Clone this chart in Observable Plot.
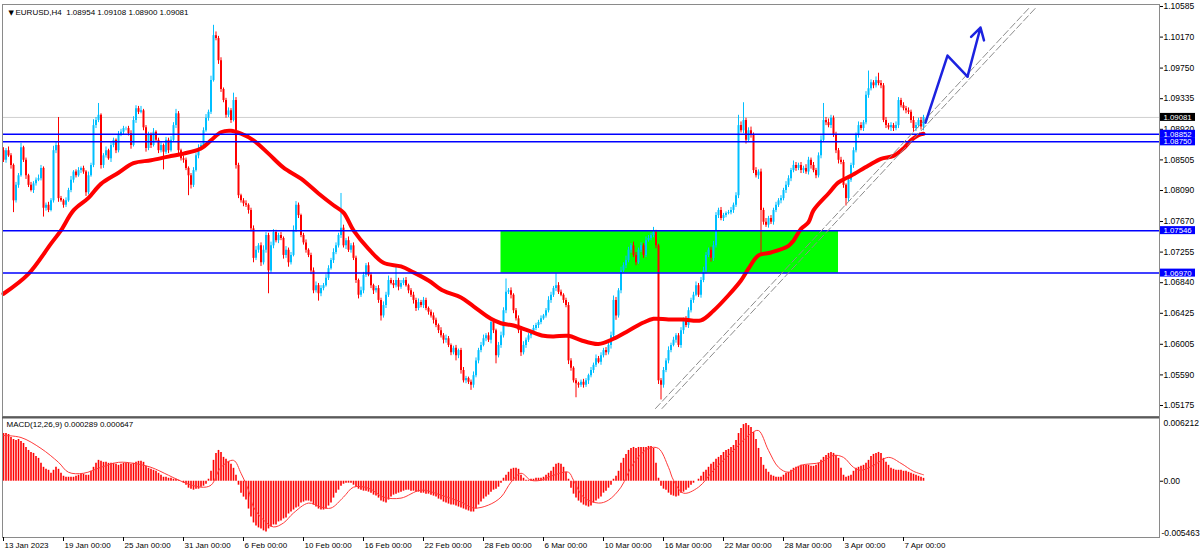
<!DOCTYPE html>
<html><head><meta charset="utf-8">
<script src="https://cdn.jsdelivr.net/npm/d3@7"></script>
<script src="https://cdn.jsdelivr.net/npm/@observablehq/plot@0.6"></script>
<style>
html,body{margin:0;padding:0;background:#fff;}
#wrap{width:1200px;height:553px;overflow:hidden;background:#fff;}
#wrap svg{display:block;}
</style></head><body><div id="wrap"></div>
<script>
// ---------------- DATA ----------------
const symbolHeader = "EURUSD,H4  1.08954 1.09108 1.08900 1.09081";
const macdHeader = "MACD(12,26,9) 0.000289 0.000647";
const firstOpen = 1.0863;
// H4 closes, one per bar (bar 0 = 13 Jan 2023 00:00)
const closes = [
1.0850,1.0863,1.0856,1.0843,1.0795,1.0816,1.0829,1.0867,1.0850,1.0829,
1.0816,1.0809,1.0818,1.0823,1.0825,1.0839,1.0785,1.0789,1.0782,1.0795,
1.0863,1.0870,1.0798,1.0795,1.0789,1.0795,1.0809,1.0823,1.0834,1.0829,
1.0836,1.0839,1.0834,1.0806,1.0829,1.0843,1.0897,1.0904,1.0911,1.0843,
1.0856,1.0863,1.0852,1.0870,1.0877,1.0863,1.0884,1.0888,1.0893,1.0893,
1.0886,1.0870,1.0904,1.0920,1.0915,1.0917,1.0894,1.0866,1.0884,1.0870,
1.0888,1.0877,1.0863,1.0870,1.0861,1.0877,1.0863,1.0877,1.0897,1.0913,
1.0863,1.0852,1.0850,1.0839,1.0829,1.0816,1.0836,1.0856,1.0866,1.0870,
1.0890,1.0907,1.0915,1.0958,1.1019,1.1015,1.0985,1.0946,1.0931,1.0911,
1.0917,1.0904,1.0931,1.0843,1.0802,1.0795,1.0791,1.0789,1.0782,1.0757,
1.0717,1.0728,1.0734,1.0711,1.0728,1.0748,1.0700,1.0734,1.0752,1.0741,
1.0748,1.0744,1.0721,1.0728,1.0711,1.0721,1.0755,1.0789,1.0775,1.0748,
1.0738,1.0728,1.0721,1.0700,1.0673,1.0680,1.0669,1.0676,1.0680,1.0690,
1.0703,1.0714,1.0725,1.0734,1.0748,1.0758,1.0734,1.0741,1.0728,1.0734,
1.0717,1.0687,1.0667,1.0673,1.0694,1.0707,1.0694,1.0680,1.0673,1.0676,
1.0660,1.0639,1.0653,1.0667,1.0687,1.0683,1.0680,1.0687,1.0678,1.0683,
1.0687,1.0680,1.0673,1.0667,1.0660,1.0649,1.0657,1.0653,1.0660,1.0649,
1.0644,1.0639,1.0633,1.0626,1.0619,1.0612,1.0606,1.0608,1.0599,1.0589,
1.0595,1.0585,1.0592,1.0565,1.0551,1.0554,1.0549,1.0545,1.0558,1.0578,
1.0592,1.0599,1.0608,1.0612,1.0606,1.0630,1.0619,1.0585,1.0599,1.0612,
1.0646,1.0671,1.0673,1.0667,1.0646,1.0635,1.0619,1.0589,1.0599,1.0606,
1.0612,1.0616,1.0622,1.0626,1.0630,1.0635,1.0639,1.0646,1.0660,1.0667,
1.0676,1.0680,1.0671,1.0667,1.0660,1.0653,1.0578,1.0568,1.0551,1.0547,
1.0545,1.0549,1.0545,1.0551,1.0558,1.0565,1.0572,1.0581,1.0576,1.0585,
1.0592,1.0589,1.0599,1.0612,1.0660,1.0639,1.0673,1.0700,1.0707,1.0714,
1.0728,1.0734,1.0721,1.0711,1.0728,1.0734,1.0721,1.0741,1.0744,1.0748,
1.0752,1.0734,1.0551,1.0545,1.0565,1.0578,1.0592,1.0599,1.0606,1.0612,
1.0599,1.0619,1.0633,1.0626,1.0646,1.0660,1.0667,1.0680,1.0667,1.0687,
1.0700,1.0721,1.0728,1.0717,1.0734,1.0775,1.0782,1.0771,1.0775,1.0778,
1.0779,1.0782,1.0789,1.0802,1.0897,1.0890,1.0904,1.0877,1.0890,1.0884,
1.0836,1.0829,1.0834,1.0782,1.0766,1.0762,1.0771,1.0766,1.0782,1.0789,
1.0795,1.0798,1.0809,1.0816,1.0825,1.0836,1.0843,1.0839,1.0843,1.0836,
1.0839,1.0834,1.0850,1.0843,1.0836,1.0829,1.0856,1.0877,1.0904,1.0901,
1.0897,1.0907,1.0884,1.0863,1.0850,1.0847,1.0816,1.0798,1.0823,1.0843,
1.0863,1.0884,1.0897,1.0893,1.0901,1.0938,1.0947,1.0955,1.0951,1.0958,
1.0954,1.0951,1.0904,1.0897,1.0894,1.0897,1.0893,1.0897,1.0931,1.0924,
1.0920,1.0917,1.0915,1.0904,1.0893,1.0897,1.0904,1.0895,1.0908];
// upper / lower wick length of each bar, in pips
const wickUp = [
4,3,5,3,2,4,3,6,2,3, 2,4,3,3,5,4,2,3,4,3, 6,5,38,3,2,4,3,5,2,3, 4,2,3,2,5,3,8,4,16,2,
3,5,2,4,3,2,5,4,3,2, 3,4,5,4,3,6,2,3,4,3, 5,2,3,4,2,4,3,5,4,6, 3,2,4,3,2,3,4,3,5,3,
4,5,3,6,14,5,3,4,2,3, 4,3,10,4,3,2,3,4,2,3, 4,5,3,4,6,4,3,5,4,3, 3,4,2,5,3,4,6,5,3,2,
3,4,2,3,4,5,3,4,3,5, 4,3,5,4,3,47,4,3,5,3, 4,3,2,5,4,3,4,3,2,3, 4,3,5,4,6,3,4,18,3,4,
3,4,2,3,4,3,5,3,4,3, 2,3,4,3,2,4,3,5,3,2, 3,4,2,3,4,3,2,3,5,4, 3,4,5,3,4,6,3,2,4,5,
4,18,3,4,2,3,4,3,5,3, 3,2,4,3,3,4,2,3,5,4, 3,16,4,3,2,3,4,3,2,3, 2,3,4,3,2,4,3,5,3,4,
3,4,3,5,6,4,3,5,4,6, 4,3,5,4,3,4,3,5,4,3, 7,3,2,3,4,3,5,3,4,3, 3,4,3,5,4,3,4,5,3,4,
5,4,3,4,6,4,3,4,3,2, 3,4,3,4,14,5,24,3,4,5, 3,4,3,4,3,5,3,4,3,4, 3,4,3,5,4,3,6,4,3,4,
3,5,4,3,4,3,4,6,23,4, 5,4,3,4,3,4,3,2,4,3, 4,3,5,4,3,5,24,4,3,5, 10,4,3,4,3,4,3,5,4,3,
4,3,4,3,5,4,3,4,3];
const wickDn = [
3,4,2,5,16,3,4,2,3,5, 3,2,4,3,2,3,12,4,3,2, 3,4,5,2,4,3,2,3,4,3, 2,4,3,5,3,2,3,4,3,5,
4,3,2,5,3,4,3,2,4,3, 3,5,2,4,3,2,4,5,3,4, 2,3,4,3,24,3,4,2,3,4, 5,3,4,3,27,5,3,2,4,3,
3,2,4,3,2,3,5,4,3,4, 3,4,2,5,4,3,4,3,5,4, 6,3,4,5,3,4,31,3,4,3, 4,3,5,4,6,3,2,3,4,3,
3,4,3,5,4,3,10,4,3,2, 3,2,4,3,3,4,3,5,3,4, 3,4,5,3,4,3,2,4,5,3, 4,7,3,4,3,2,4,3,5,3,
3,2,4,3,5,4,3,3,4,3, 4,3,5,3,4,3,5,4,3,4, 3,7,4,5,3,4,3,7,4,3, 4,3,2,4,3,5,4,11,3,4,
3,4,3,5,4,3,4,5,3,4, 3,4,2,3,4,3,2,3,3,4, 3,4,3,2,4,3,5,4,3,19, 4,3,4,3,5,3,4,3,2,4,
3,4,3,5,4,6,3,4,3,4, 3,4,3,4,2,3,4,3,2,3, 3,4,5,20,4,3,4,3,2,4, 3,4,5,3,4,3,4,2,3,4,
3,4,3,5,4,3,4,3,4,3, 2,3,4,3,4,3,4,5,3,4, 4,3,5,58,4,3,4,3,4,3, 3,4,3,4,3,4,3,4,3,4,
4,3,4,5,3,4,3,4,3,4, 3,4,3,4,5,3,4,10,4,3, 4,3,4,3,4,3,4,3,4,3, 3,4,3,4,3,5,4,3,4,3,
3,4,3,4,5,4,3,4,5];
// moving average (thick red line): bar index / value
const maIdx = [0,10,19,23,28,34,39,46,52,59,66,72,79,83,87,91,95,100,106,112,119,126,132,136,140,146,152,159,164,170,176,183,188,195,199,204,210,216,220,226,231,238,244,250,256,260,266,272,279,284,290,295,298,302,307,314,316,319,322,324,330,334,339,346,351,356,360,363,366,368];
const maVal = [1.0669,1.0696,1.0737,1.0755,1.0782,1.0799,1.0818,1.0833,1.0846,1.0850,1.0855,1.0859,1.0866,1.0877,1.0888,1.0890,1.0886,1.0877,1.0859,1.0840,1.0825,1.0805,1.0789,1.0779,1.0755,1.0730,1.0711,1.0706,1.0698,1.0687,1.0673,1.0664,1.0652,1.0635,1.0629,1.0626,1.0619,1.0612,1.0611,1.0612,1.0606,1.0601,1.0608,1.0619,1.0630,1.0635,1.0634,1.0634,1.0633,1.0646,1.0667,1.0687,1.0703,1.0721,1.0725,1.0734,1.0741,1.0757,1.0766,1.0782,1.0805,1.0820,1.0829,1.0843,1.0852,1.0856,1.0866,1.0877,1.0884,1.0886];
const levels = [1.08852, 1.08750, 1.07546, 1.06970];
const lastPrice = 1.09081;
const priceTicks = [1.10585,1.10170,1.09750,1.09335,1.08920,1.08505,1.08090,1.07670,1.07255,1.06840,1.06425,1.06005,1.05590,1.05175];
const zone = {i1: 199, i2: 334, lo: 1.06970, hi: 1.07546};
const trendIdxA = [260.8, 410.8], trendIdxB = [263.4, 413.4], trendP = [1.05134, 1.10585];
const arrowIdx = [368.8, 377.6, 385.6, 390.8], arrowP = [1.0901, 1.0992, 1.09635, 1.1030];
// MACD main line histogram, in units of 0.0001
const macdHist = [
48,48,47,44,42,41,42,40,38,34, 31,29,28,25,23,18,14,12,11,8, 11,14,12,8,5,4,4,4,4,5, 6,7,7,6,6,10,14,18,21,20,
19,19,18,18,18,17,16,17,18,18, 18,17,18,19,20,20,19,15,13,12, 11,10,8,6,4,4,3,3,2,2, 1,0,-2,-4,-7,-8,-9,-8,-8,-6,
-5,-3,2,10,21,28,31,29,24,22, 20,17,13,6,-4,-12,-16,-19,-28,-36, -42,-45,-47,-48,-50,-51,-48,-46,-44,-44, -41,-40,-38,-37,-33,-31,-29,-27,-26,-22,
-21,-20,-20,-21,-24,-26,-28,-29,-29,-28, -25,-22,-17,-12,-9,-5,-3,-2,-2,-2, -4,-6,-8,-9,-10,-10,-11,-12,-14,-15, -17,-20,-21,-22,-19,-16,-14,-13,-12,-11,
-10,-9,-9,-10,-10,-11,-11,-12,-12,-13, -13,-14,-15,-16,-18,-19,-21,-22,-23,-24, -24,-25,-26,-27,-28,-29,-30,-31,-31,-28, -24,-21,-18,-16,-14,-11,-9,-8,-6,-2,
3,6,9,12,13,13,12,6,3,1, 1,2,2,3,3,3,4,6,8,10, 14,17,18,17,14,9,2,-7,-13,-17, -20,-22,-24,-25,-26,-25,-22,-20,-18,-16,
-12,-10,-7,-4,2,5,10,18,23,27, 31,33,34,33,34,34,34,34,35,35, 33,18,3,-5,-8,-9,-12,-14,-15,-16, -15,-12,-11,-9,-7,-4,-2,0,2,5,
9,11,14,17,19,22,24,26,29,31, 32,34,36,41,48,53,57,58,56,54, 49,42,33,24,16,12,9,6,5,4, 4,4,6,8,9,11,13,14,15,16,
16,16,16,15,15,16,18,21,24,26, 28,29,28,26,23,13,6,4,5,6, 10,13,14,15,16,18,21,25,27,28, 29,28,23,19,16,13,12,11,11,11,
10,10,9,8,7,6,5,4,2.89];
// signal line, in units of 0.0001
const sigIdx = [0,7,15,22,26,32,39,46,52,59,66,72,79,83,87,92,95,98,100,104,108,112,116,122,127,131,136,140,146,152,159,167,175,183,188,194,199,203,207,211,215,220,226,228,232,238,242,247,252,258,262,266,268,272,278,284,292,299,302,306,310,314,319,327,332,336,340,343,348,354,359,364,368];
const sigVal = [46,44,33,19,9,8,14,19,18,14,6,-1,-6,-4,14,21,8,-9,-26,-39,-46,-42,-32,-22,-26,-27,-16,-6,-7,-16,-17,-9,-14,-21,-27,-24,-16,-1,8,1,1,6,9,1,-16,-22,-19,-6,18,33,33,14,1,-12,-6,11,31,48,51,31,14,9,16,19,26,24,14,11,16,24,18,10,6.47];
const macdTicks = [0.006212, 0, -0.005463];
const dateLabels = ["13 Jan 2023","19 Jan 00:00","25 Jan 00:00","31 Jan 00:00","6 Feb 00:00","10 Feb 00:00","16 Feb 00:00","22 Feb 00:00","28 Feb 00:00","6 Mar 00:00","10 Mar 00:00","16 Mar 00:00","22 Mar 00:00","28 Mar 00:00","3 Apr 00:00","7 Apr 00:00"];
const dateIdx = [0,24,48,72,96,120,144,168,192,216,240,264,288,312,336,360];

// ---------------- BUILD ----------------
const BULL = "#00bfff", BEAR = "#ff0000";
const xMax = 462.4;
const f5 = d => d.toFixed(5);
const bars = closes.map((c, i) => {
  const o = i === 0 ? firstOpen : closes[i - 1];
  return {i, o, c, h: Math.max(o, c) + (wickUp[i] || 3) / 1e4, l: Math.min(o, c) - (wickDn[i] || 3) / 1e4};
});
const up = bars.filter(b => b.c >= b.o), dn = bars.filter(b => b.c < b.o);
const ma = maIdx.map((i, k) => ({i, p: maVal[k]}));
const trendA = trendIdxA.map((i, k) => ({i, p: trendP[k]}));
const trendB = trendIdxB.map((i, k) => ({i, p: trendP[k]}));
const arrowPts = arrowIdx.map((i, k) => ({i, p: arrowP[k]}));
const arrowHead = [{i1: arrowIdx[2], p1: arrowP[2], i2: arrowIdx[3], p2: arrowP[3]}];
const levelBoxes = levels.map(p => ({x: xMax, p}));
const lastBox = [{x: xMax, p: lastPrice}];
const hist = macdHist.map((v, i) => ({i, v: v / 1e4}));
const signal = sigIdx.map((i, k) => ({i, v: sigVal[k] / 1e4}));
const dates = dateLabels.map((label, k) => ({i: dateIdx[k], label}));
const font = "'Liberation Sans', Arial, sans-serif";

const boxOpts = {x1: "x", x2: "x", y1: "p", y2: "p", insetLeft: 1, insetRight: -36, insetTop: -4, insetBottom: -4};

const main = Plot.plot({
  width: 1200, height: 416,
  marginLeft: 2, marginRight: 41, marginTop: 4, marginBottom: 0,
  x: {domain: [0, xMax], range: [3, 1159], axis: null},
  y: {domain: [1.05175, 1.10585], range: [405, 6]},
  style: {fontFamily: font, fontSize: "8.5px", color: "#000", background: "#fff"},
  marks: [
    Plot.axisY({ticks: priceTicks, anchor: "right", tickSize: 3, tickPadding: 1, tickFormat: f5, label: null, fontSize: 8.5}),
    Plot.rect([zone], {x1: "i1", x2: "i2", y1: "lo", y2: "hi", fill: "#00ff00"}),
    Plot.ruleY([lastPrice], {stroke: "#cfcfcf"}),
    Plot.ruleX(up, {x: "i", y1: "l", y2: "h", stroke: BULL, strokeWidth: 1}),
    Plot.ruleX(dn, {x: "i", y1: "l", y2: "h", stroke: BEAR, strokeWidth: 1}),
    Plot.ruleX(up, {x: "i", y1: "o", y2: "c", stroke: BULL, strokeWidth: 2}),
    Plot.ruleX(dn, {x: "i", y1: "o", y2: "c", stroke: BEAR, strokeWidth: 2}),
    Plot.line(ma, {x: "i", y: "p", stroke: "#ff0000", strokeWidth: 4, curve: "catmull-rom"}),
    Plot.ruleY(levels, {stroke: "#0000ff", strokeWidth: 1.5}),
    Plot.line(trendA, {x: "i", y: "p", stroke: "#8c8c8c", strokeWidth: 1, strokeDasharray: "7,3"}),
    Plot.line(trendB, {x: "i", y: "p", stroke: "#8c8c8c", strokeWidth: 1, strokeDasharray: "7,3"}),
    Plot.line(arrowPts.slice(0, 3), {x: "i", y: "p", stroke: "#1c22e0", strokeWidth: 2.5, strokeLinejoin: "round"}),
    Plot.arrow(arrowHead, {x1: "i1", y1: "p1", x2: "i2", y2: "p2", stroke: "#1c22e0", strokeWidth: 2.5, headLength: 8}),
    Plot.frame({stroke: "#8a8a8a"}),
    Plot.rect(levelBoxes, {...boxOpts, fill: "#0000ff"}),
    Plot.text(levelBoxes, {x: "x", y: "p", text: d => f5(d.p), fill: "#fff", textAnchor: "start", dx: 4, fontSize: 7.8}),
    Plot.rect(lastBox, {...boxOpts, fill: "#000"}),
    Plot.text(lastBox, {x: "x", y: "p", text: d => f5(d.p), fill: "#fff", textAnchor: "start", dx: 4, fontSize: 7.8}),
    Plot.text(["\u25BC"], {frameAnchor: "top-left", dx: 6, dy: 8, fontSize: 7, fontFamily: "DejaVu Sans", lineAnchor: "middle"}),
    Plot.text([symbolHeader], {frameAnchor: "top-left", dx: 13, dy: 8, textAnchor: "start", lineAnchor: "middle", fontSize: 8})
  ]
});

const sub = Plot.plot({
  width: 1200, height: 137,
  marginLeft: 2, marginRight: 41, marginTop: 0, marginBottom: 16,
  x: {domain: [0, xMax], range: [3, 1159]},
  y: {domain: [macdTicks[2], macdTicks[0]], range: [119, 3]},
  style: {fontFamily: font, fontSize: "8.5px", color: "#000", background: "#fff"},
  marks: [
    Plot.ruleX(hist, {x: "i", y1: 0, y2: "v", stroke: "#ff0000", strokeWidth: 1.6}),
    Plot.line(signal, {x: "i", y: "v", stroke: "#ff3b3b", strokeWidth: 1, curve: "catmull-rom"}),
    Plot.frame({stroke: "#8a8a8a"}),
    Plot.ruleY([macdTicks[0]], {stroke: "#5a5a5a", strokeWidth: 2, dy: -2}),
    Plot.axisX({ticks: dateIdx, tickSize: 4, tickFormat: () => "", label: null}),
    Plot.axisY({ticks: [0], anchor: "right", tickSize: 3, tickFormat: () => "", label: null}),
    Plot.text(dates, {x: "i", text: "label", frameAnchor: "bottom", textAnchor: "start", dx: 1, dy: 8, lineAnchor: "middle", fontSize: 8}),
    Plot.text([macdTicks[0]], {y: d => d, text: d => d.toFixed(6), frameAnchor: "right", textAnchor: "start", dx: 4, dy: 4, fontSize: 8.5}),
    Plot.text([macdTicks[1]], {y: d => d, text: () => "0.00", frameAnchor: "right", textAnchor: "start", dx: 4, fontSize: 8.5}),
    Plot.text([macdTicks[2]], {y: d => d, text: d => d.toFixed(6), frameAnchor: "right", textAnchor: "start", dx: 2, dy: -2, fontSize: 8.5}),
    Plot.text([macdHeader], {frameAnchor: "top-left", dx: 4, dy: 8, textAnchor: "start", lineAnchor: "middle", fontSize: 8})
  ]
});

const wrap = document.getElementById("wrap");
wrap.appendChild(main);
wrap.appendChild(sub);
</script></body></html>
